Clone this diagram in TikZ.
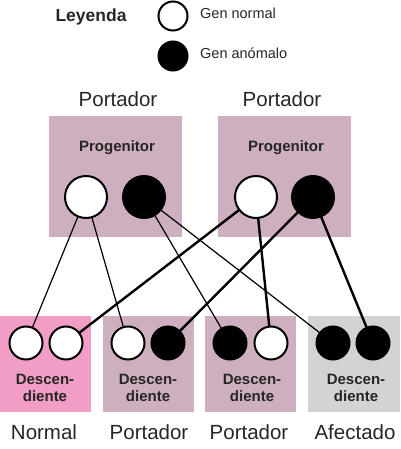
\documentclass[tikz,border=0pt]{standalone}
\usepackage{fontspec}
\setmainfont{Liberation Sans}
\definecolor{mauve}{HTML}{CDAFC0}
\definecolor{pinkb}{HTML}{F19DC6}
\definecolor{grayb}{HTML}{D3D3D3}
\begin{document}
\begin{tikzpicture}[x=1pt,y=-1pt,
  gene/.style={circle,draw=black,line width=2pt,inner sep=0pt,minimum size=#1},
  wgene/.style={gene=#1,fill=white},
  bgene/.style={gene=#1,fill=black},
  box/.style={inner sep=0pt,anchor=north west},
  thinl/.style={line width=1.2pt,shorten <=-0.5pt,shorten >=-0.5pt},
  thickl/.style={line width=2.4pt,shorten <=-0.5pt,shorten >=-0.5pt},
  lbl/.style={font=\fontsize{20.5}{22}\selectfont,text=black!85,inner sep=0pt},
  bl/.style={font=\bfseries\fontsize{15}{17.5}\selectfont,text=black!85,inner sep=0pt,align=center},
  leg/.style={font=\fontsize{14.5}{16}\selectfont,text=black!85,inner sep=0pt,anchor=west}]
\useasboundingbox (0,0) rectangle (400,449);
% legend
\node[font=\bfseries\fontsize{17.5}{19}\selectfont,text=black!85,inner sep=0pt] (ley) at (91,17) {Leyenda};
\node[wgene=29pt] (lw) at (173,16) {};
\node[bgene=29pt] (lb) at (173,56) {};
\node[leg] (gn) at (200,13) {Gen normal};
\node[leg] (ga) at (200,53) {Gen anómalo};
% parent boxes
\node[box,fill=mauve,minimum width=133pt,minimum height=121pt] (p1) at (49,116) {};
\node[box,fill=mauve,minimum width=133pt,minimum height=121pt] (p2) at (218,116) {};
\node[lbl] (pl1) at (118,99) {Portador};
\node[lbl] (pl2) at (282,99) {Portador};
\node[bl] (pg1) at (117,148) {Progenitor};
\node[bl] (pg2) at (286,148) {Progenitor};
\node[wgene=42pt] (aw) at (86,197) {};
\node[bgene=42pt] (ab) at (144,197) {};
\node[wgene=42pt] (bw) at (256,197) {};
\node[bgene=42pt] (bb) at (313,197) {};
% offspring boxes
\node[box,fill=pinkb,minimum width=91pt,minimum height=96pt] (d1) at (0,316) {};
\node[box,fill=mauve,minimum width=91pt,minimum height=96pt] (d2) at (103,316) {};
\node[box,fill=mauve,minimum width=91pt,minimum height=96pt] (d3) at (205,316) {};
\node[box,fill=grayb,minimum width=92pt,minimum height=96pt] (d4) at (308,316) {};
\foreach \n/\x in {t1/45,t2/148,t3/252,t4/356}{
  \node[bl] (\n) at (\x,388) {Descen-\\diente};
}
\node[lbl] (n1) at (44,432) {Normal};
\node[lbl] (n2) at (149,432) {Portador};
\node[lbl] (n3) at (249,432) {Portador};
\node[lbl] (n4) at (355,432) {Afectado};
\node[wgene=33pt] (c1) at (26,343) {};
\node[wgene=33pt] (c2) at (66,343) {};
\node[wgene=33pt] (c3) at (128,343) {};
\node[bgene=33pt] (c4) at (168,343) {};
\node[bgene=33pt] (c5) at (230,343) {};
\node[wgene=33pt] (c6) at (271,343) {};
\node[bgene=33pt] (c7) at (333,343) {};
\node[bgene=33pt] (c8) at (373,343) {};
% connectors
\draw[thinl] (aw) -- (c1);
\draw[thinl] (aw) -- (c3);
\draw[thinl] (ab) -- (c5);
\draw[thinl] (ab) -- (c7);
\draw[thickl] (bw) -- (c2);
\draw[thickl] (bw) -- (c6);
\draw[thickl] (bb) -- (c4);
\draw[thickl] (bb) -- (c8);
\end{tikzpicture}
\end{document}
